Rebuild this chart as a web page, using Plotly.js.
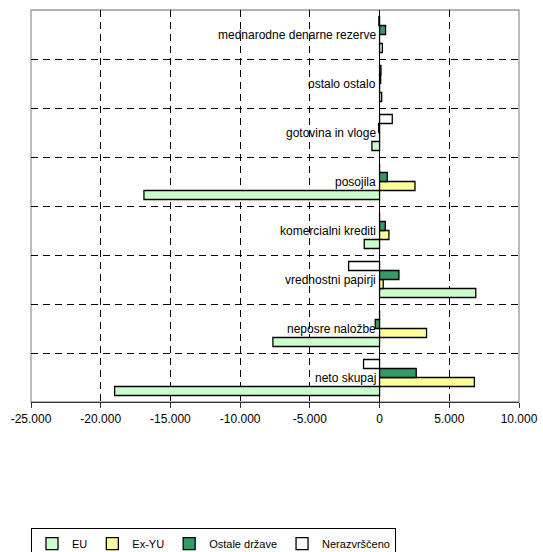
<!DOCTYPE html>
<html>
<head>
<meta charset="utf-8">
<script src="https://cdn.plot.ly/plotly-3.0.1.min.js"></script>
<style>html,body{margin:0;padding:0;background:#fff}#chart{width:543px;height:552px}</style>
</head>
<body>
<div id="chart"></div>
<script>
var categories = ["neto skupaj", "neposre naložbe", "vrednostni papirji", "komercialni krediti", "posojila", "gotovina in vloge", "ostalo ostalo", "mednarodne denarne rezerve"];
var seriesNames = ["EU", "Ex-YU", "Ostale države", "Nerazvrščeno"];
var euValues = [-19000, -7650, 6900, -1100, -16900, -550, 150, 200];
var exyuValues = [6800, 3370, 260, 670, 2540, 0, 0, 0];
var ostaleValues = [2630, -310, 1390, 410, 550, -70, 80, 430];
var nerazValues = [-1150, 0, -2220, 0, 0, 910, 100, -50];
var tickVals = [-25000, -20000, -15000, -10000, -5000, 0, 5000, 10000];
var tickLabels = ["-25.000", "-20.000", "-15.000", "-10.000", "-5.000", "0", "5.000", "10.000"];
var colors = ["#CCFFCC", "#FFFF99", "#339966", "#FFFFFF"];

var FONT = '"Liberation Sans", Arial, Helvetica, sans-serif';

var allValues = [euValues, exyuValues, ostaleValues, nerazValues];
var traces = allValues.map(function(vals, i){
  return {
    type: "bar", orientation: "h", name: seriesNames[i],
    x: vals, y: categories,
    marker: {color: colors[i], line: {color: "#000", width: 1.3}},
    hoverinfo: "x+name"
  };
});

var annotations = categories.map(function(c){
  return {x: 0, y: c, xref: "x", yref: "y", text: c, showarrow: false,
          xanchor: "right", yanchor: "middle", xshift: -2,
          font: {family: FONT, size: 12, color: "#000"}};
});

var layout = {
  width: 543, height: 552,
  margin: {l: 31, r: 24, t: 10, b: 150, autoexpand: false},
  paper_bgcolor: "#fff", plot_bgcolor: "#fff",
  font: {family: FONT, size: 12, color: "#000"},
  barmode: "group", bargap: 0.265, bargroupgap: 0,
  showlegend: true,
  legend: {orientation: "h", x: 0, xanchor: "left", y: -0.322, yanchor: "top",
           bordercolor: "#000", borderwidth: 1, bgcolor: "#fff",
           traceorder: "normal", font: {family: FONT, size: 11},
           itemwidth: 30, tracegroupgap: 0},
  xaxis: {range: [-25000, 10000], tickvals: tickVals, ticktext: tickLabels,
          showgrid: true, gridcolor: "#000", gridwidth: 1, griddash: "7px,5px",
          zeroline: true, zerolinecolor: "#000", zerolinewidth: 1.3,
          showline: true, linecolor: "#333", linewidth: 1.3,
          ticks: "outside", ticklen: 5, tickcolor: "#333",
          tickfont: {family: FONT, size: 12}, fixedrange: true},
  yaxis: {type: "category", categoryorder: "array", categoryarray: categories,
          tickson: "boundaries", showticklabels: false,
          showgrid: true, gridcolor: "#000", gridwidth: 1, griddash: "7px,5px",
          showline: false, ticks: "", fixedrange: true},
  shapes: [{type: "rect", xref: "paper", yref: "paper", x0: 0, x1: 1, y0: 0, y1: 1,
            line: {color: "#999", width: 1.3}, layer: "below"}],
  annotations: annotations
};

Plotly.newPlot("chart", traces, layout, {displayModeBar: false, staticPlot: true});
</script>
</body>
</html>
